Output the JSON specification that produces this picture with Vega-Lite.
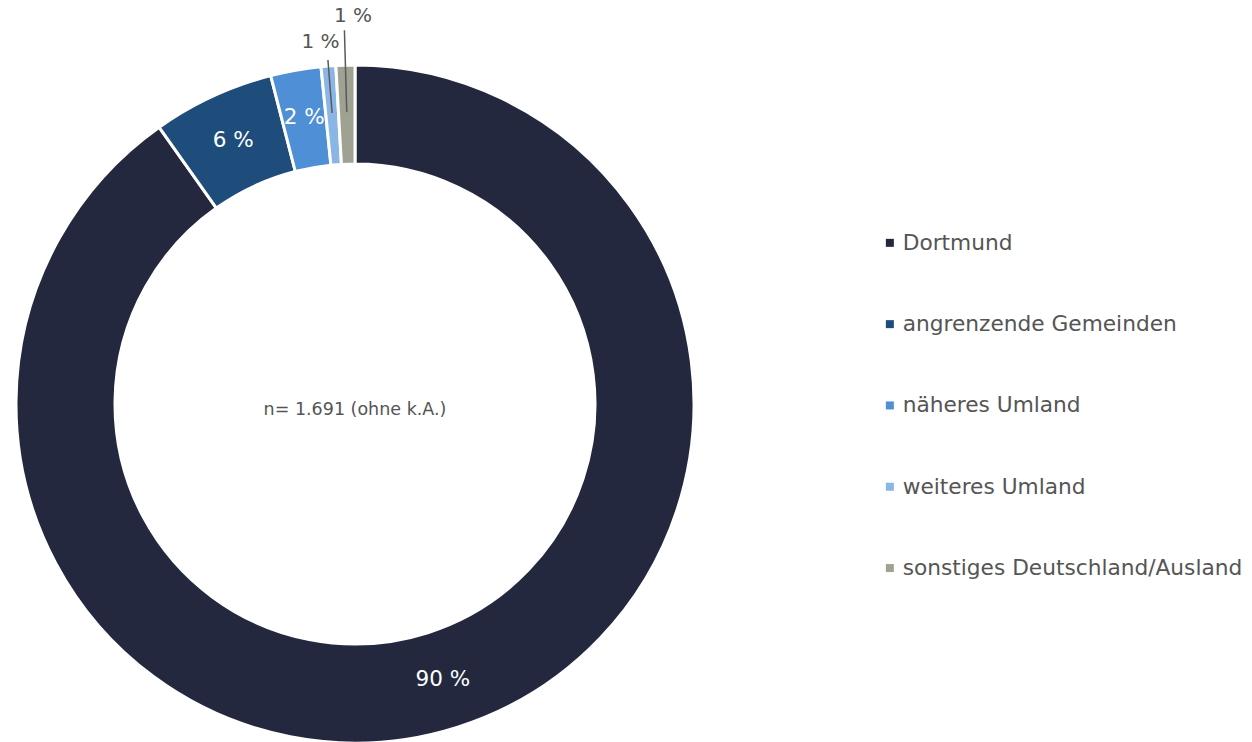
{
  "$schema": "https://vega.github.io/schema/vega-lite/v6.json",
  "width": 710,
  "height": 676,
  "padding": {"top": 66, "left": 0, "right": 542, "bottom": 0},
  "autosize": {"type": "none"},
  "background": "white",
  "config": {"view": {"stroke": null}, "font": "DejaVu Sans"},
  "data": {
    "values": [
      {"region": "Dortmund", "share": 90.2, "label": "90 %", "rank": 1},
      {"region": "angrenzende Gemeinden", "share": 5.8, "label": "6 %", "rank": 2},
      {"region": "näheres Umland", "share": 2.4, "label": "2 %", "rank": 3},
      {"region": "weiteres Umland", "share": 0.7, "label": "1 %", "rank": 4},
      {"region": "sonstiges Deutschland/Ausland", "share": 0.9, "label": "1 %", "rank": 5}
    ]
  },
  "layer": [
    {
      "mark": {"type": "arc", "innerRadius": 240, "outerRadius": 339, "stroke": "white", "strokeWidth": 3},
      "encoding": {
        "theta": {"field": "share", "type": "quantitative", "stack": true},
        "order": {"field": "rank", "type": "quantitative"},
        "color": {
          "field": "region",
          "type": "nominal",
          "scale": {
            "domain": ["Dortmund", "angrenzende Gemeinden", "näheres Umland", "weiteres Umland", "sonstiges Deutschland/Ausland"],
            "range": ["#23283F", "#1E4D7B", "#4E8FD5", "#8AB6E6", "#9FA293"]
          },
          "legend": {
            "title": null,
            "orient": "none",
            "legendX": 879,
            "legendY": 166,
            "symbolType": "square",
            "symbolSize": 64,
            "symbolStrokeWidth": 0,
            "labelFontSize": 21.7,
            "labelFont": "DejaVu Sans",
            "labelColor": "#555555",
            "labelOffset": 2,
            "rowPadding": 58.3,
            "labelLimit": 400
          }
        }
      }
    },
    {
      "mark": {"type": "text", "radius": 290, "fontSize": 21.5, "color": "white"},
      "encoding": {
        "theta": {"field": "share", "type": "quantitative", "stack": true},
        "order": {"field": "rank", "type": "quantitative"},
        "text": {"condition": {"test": "datum.rank <= 3", "field": "label", "type": "nominal"}, "value": ""}
      }
    },
    {
      "mark": {"type": "text", "radius": 363, "fontSize": 20, "color": "#555555", "dx": -6},
      "encoding": {
        "theta": {"field": "share", "type": "quantitative", "stack": true},
        "order": {"field": "rank", "type": "quantitative"},
        "text": {"condition": {"test": "datum.rank == 4", "field": "label", "type": "nominal"}, "value": ""}
      }
    },
    {
      "mark": {"type": "text", "radius": 388, "fontSize": 20, "color": "#555555", "dx": 9},
      "encoding": {
        "theta": {"field": "share", "type": "quantitative", "stack": true},
        "order": {"field": "rank", "type": "quantitative"},
        "text": {"condition": {"test": "datum.rank == 5", "field": "label", "type": "nominal"}, "value": ""}
      }
    },
    {
      "mark": {"type": "arc", "innerRadius": 292, "outerRadius": 345, "padAngle": 0.3, "fillOpacity": 0, "stroke": "#595959", "strokeWidth": 1.5},
      "encoding": {
        "theta": {"field": "share", "type": "quantitative", "stack": true},
        "order": {"field": "rank", "type": "quantitative"},
        "strokeOpacity": {"condition": {"test": "datum.rank == 4", "value": 1}, "value": 0}
      }
    },
    {
      "mark": {"type": "arc", "innerRadius": 292, "outerRadius": 374, "padAngle": 0.3, "fillOpacity": 0, "stroke": "#595959", "strokeWidth": 1.5},
      "encoding": {
        "theta": {"field": "share", "type": "quantitative", "stack": true},
        "order": {"field": "rank", "type": "quantitative"},
        "strokeOpacity": {"condition": {"test": "datum.rank == 5", "value": 1}, "value": 0}
      }
    },
    {
      "data": {"values": [{"note": "n= 1.691 (ohne k.A.)"}]},
      "mark": {"type": "text", "fontSize": 17.5, "color": "#555555", "dy": 6},
      "encoding": {"text": {"field": "note", "type": "nominal"}}
    }
  ]
}
